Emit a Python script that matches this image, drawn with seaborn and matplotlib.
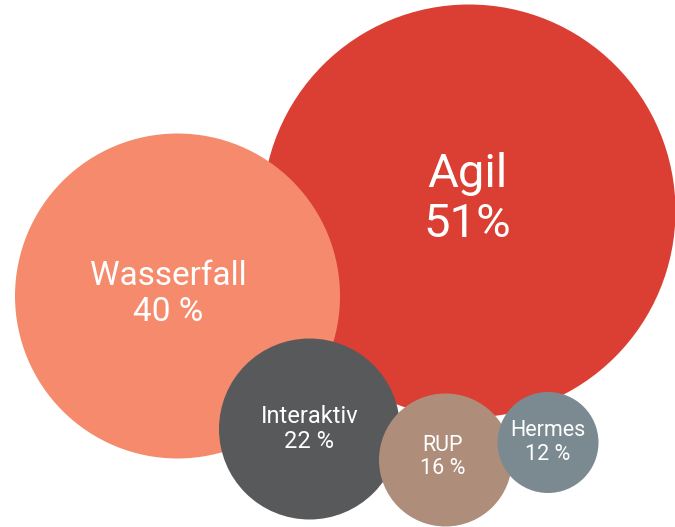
import matplotlib
matplotlib.use("Agg")
import matplotlib.pyplot as plt
import seaborn as sns
import pandas as pd

# --- data ---
methods = ["Agil", "Wasserfall", "Interaktiv", "RUP", "Hermes"]
shares = [51, 40, 22, 16, 12]
labels = ["51%", "40 %", "22 %", "16 %", "12 %"]

# --- style / layout ---
colors = ["#DB3F33", "#F58B6C", "#58595B", "#AE8E7B", "#7B8A91"]
centers_x = [469, 177.5, 309.5, 445.5, 548]
centers_y = [211, 296, 429, 460, 442.5]
text_dx = [-2, -9, 0, -3, 0]
text_dy = [-12, -2, 0, -3, 0]
font_pt = [34, 24, 17, 15.5, 15.5]
px_per_value = 4.0
px_offset = 2.5

sns.set_theme(style="white")
plt.rcParams["font.family"] = ["Roboto", "DejaVu Sans"]

W, H, DPI = 675, 527, 100
fig = plt.figure(figsize=(W / DPI, H / DPI), dpi=DPI)
ax = fig.add_axes([0, 0, 1, 1])

df = pd.DataFrame({"method": methods, "share": shares, "x": centers_x, "y": centers_y})
pt_per_px = 72 / DPI
sizes = {m: (2 * (v * px_per_value + px_offset) * pt_per_px) ** 2 for m, v in zip(methods, shares)}
palette = dict(zip(methods, colors))

sns.scatterplot(data=df, x="x", y="y", hue="method", size="method", sizes=sizes,
                palette=palette, linewidth=0, legend=False, ax=ax, alpha=1)

for m, lab, x, y, dx, dy, fs in zip(methods, labels, centers_x, centers_y, text_dx, text_dy, font_pt):
    ax.text(x + dx, y + dy, f"{m}\n{lab}", ha="center", va="center", color="white",
            fontsize=fs, linespacing=1.15, fontweight="normal")

ax.set_xlim(0, W)
ax.set_ylim(H, 0)
ax.axis("off")
fig.savefig("out.png", dpi=DPI)
